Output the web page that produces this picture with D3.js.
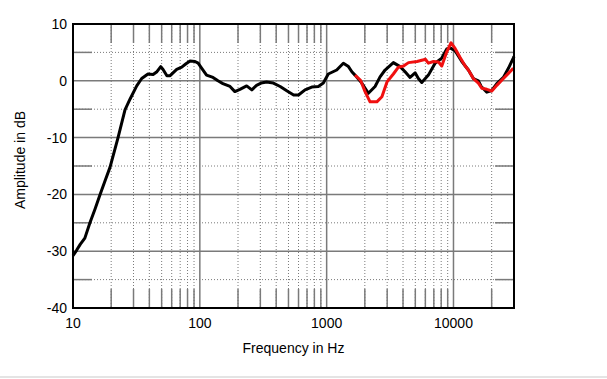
<!DOCTYPE html>
<html><head><meta charset="utf-8">
<script src="https://cdn.jsdelivr.net/npm/d3@7"></script>
<style>body{margin:0;background:#fff;}svg{display:block;font-family:"Liberation Sans",Arial,sans-serif;}</style>
</head><body>
<script>
const freqBlack=[10,10.7,11.4,12.4,13.6,14.9,16.3,17.9,19.6,22.6,25.7,28.2,31.8,34.8,39,42.8,45.9,49.2,51.3,55,58.3,65.7,72,77.8,83.7,91.6,97,103.6,113,127,139,152,173,189,207,234,257,280,304,336,380,430,488,549,600,675,763,860,941,1030,1200,1354,1486,1580,1673,1892,2133,2408,2637,2888,3357,3793,4153,4547,4981,5286,5623,6339,7160,8085,8853,9402,10295,11630,13110,14350,15720,16550,18310,20050,21960,24750,27100,29600,30000];
const dbBlack=[-30.8,-29.8,-28.8,-27.7,-25.0,-22.6,-20.1,-17.6,-15.2,-10.1,-5.1,-3.2,-0.9,0.4,1.2,1.1,1.6,2.5,2.0,0.9,0.9,2.0,2.4,3.0,3.5,3.4,3.1,2.2,1.0,0.6,0.0,-0.5,-1.0,-1.9,-1.5,-0.9,-1.6,-0.8,-0.4,-0.2,-0.4,-1.0,-1.8,-2.5,-2.5,-1.6,-1.1,-1.0,-0.4,1.2,1.9,3.1,2.5,1.6,1.0,-0.4,-2.2,-1.0,0.7,1.9,3.2,2.5,1.6,0.6,1.4,0.4,-0.3,1.0,3.1,4.0,5.6,5.8,5.3,3.4,1.9,0.4,0.0,-1.0,-2.0,-1.7,-0.5,0.6,2.2,4.0,4.3];
const freqRed=[1673,1850,2008,2199,2486,2727,2990,3357,3680,4036,4420,5160,5820,6000,6340,6950,7620,8085,8853,9570,10295,11280,12370,13110,14350,15720,16720,18310,20050,21960,24750,27100,29650];
const dbRed=[1.0,0.1,-1.9,-3.7,-3.7,-2.8,-0.2,1.2,2.4,2.6,3.2,3.4,3.7,3.8,3.1,3.4,3.3,2.6,5.1,6.7,5.7,4.1,2.6,1.9,0.4,-0.4,-1.3,-1.5,-1.8,-0.8,0.4,1.3,2.2];
const yTicks=[10,0,-10,-20,-30,-40];
const yMinorTicks=[5,-5,-15,-25,-35];
const xTicks=[10,100,1000,10000];
const xMinorTicks=[20,30,40,50,60,70,80,90,200,300,400,500,600,700,800,900,2000,3000,4000,5000,6000,7000,8000,9000,20000];

const W=607,H=379;
const L=73,R=514,T=24,B=308;
const svg=d3.select("body").append("svg").attr("width",W).attr("height",H);
const x=d3.scaleLog().domain([10,30000]).range([L,R]);
const y=d3.scaleLinear().domain([-40,10]).range([B,T]);
const gridC="#7a7a7a", tk=19;
const g=svg.append("g");
yMinorTicks.forEach(v=>{
  g.append("line").attr("x1",L).attr("x2",R).attr("y1",y(v)).attr("y2",y(v)).attr("stroke",gridC).attr("stroke-width",1).attr("stroke-dasharray","1,2");
  g.append("line").attr("x1",L).attr("x2",L+tk).attr("y1",y(v)).attr("y2",y(v)).attr("stroke",gridC).attr("stroke-width",1.5);
  g.append("line").attr("x1",R-tk).attr("x2",R).attr("y1",y(v)).attr("y2",y(v)).attr("stroke",gridC).attr("stroke-width",1.5);
});
xMinorTicks.forEach(v=>{
  g.append("line").attr("x1",x(v)).attr("x2",x(v)).attr("y1",T).attr("y2",B).attr("stroke",gridC).attr("stroke-width",1).attr("stroke-dasharray","1,2");
  g.append("line").attr("x1",x(v)).attr("x2",x(v)).attr("y1",T).attr("y2",T+tk).attr("stroke",gridC).attr("stroke-width",1.5);
  g.append("line").attr("x1",x(v)).attr("x2",x(v)).attr("y1",B-tk).attr("y2",B).attr("stroke",gridC).attr("stroke-width",1.5);
});
yTicks.forEach(v=>{
  g.append("line").attr("x1",L).attr("x2",R).attr("y1",y(v)).attr("y2",y(v)).attr("stroke",gridC).attr("stroke-width",1.5);
});
xTicks.forEach(v=>{
  g.append("line").attr("x1",x(v)).attr("x2",x(v)).attr("y1",T).attr("y2",B).attr("stroke",gridC).attr("stroke-width",1.5);
});
const line=d3.line().x(d=>x(d[0])).y(d=>y(d[1])).curve(d3.curveLinear);
svg.append("path").datum(d3.zip(freqBlack,dbBlack)).attr("d",line).attr("fill","none").attr("stroke","#000").attr("stroke-width",3).attr("stroke-linejoin","round");
svg.append("path").datum(d3.zip(freqRed,dbRed)).attr("d",line).attr("fill","none").attr("stroke","#f01010").attr("stroke-width",3).attr("stroke-linejoin","round");
svg.append("rect").attr("x",L).attr("y",T).attr("width",R-L).attr("height",B-T).attr("fill","none").attr("stroke","#000").attr("stroke-width",2);
const fs=14;
svg.append("g").selectAll("text").data(yTicks).join("text").attr("x",L-6).attr("y",d=>y(d)).attr("dy","0.35em").attr("text-anchor","end").attr("font-size",fs).text(d=>d);
svg.append("g").selectAll("text").data(xTicks).join("text").attr("x",d=>x(d)).attr("y",B+15).attr("dy","0.35em").attr("text-anchor","middle").attr("font-size",fs).text(d=>String(d));
svg.append("text").attr("x",(L+R)/2).attr("y",348).attr("dy","0.35em").attr("text-anchor","middle").attr("font-size",fs).text("Frequency in Hz");
svg.append("text").attr("transform","translate(20,160) rotate(-90)").attr("dy","0.35em").attr("text-anchor","middle").attr("font-size",fs).text("Amplitude in dB");
svg.append("line").attr("x1",0).attr("x2",W).attr("y1",377).attr("y2",377).attr("stroke","#e4e4e4").attr("stroke-width",2);
</script>
</body></html>
